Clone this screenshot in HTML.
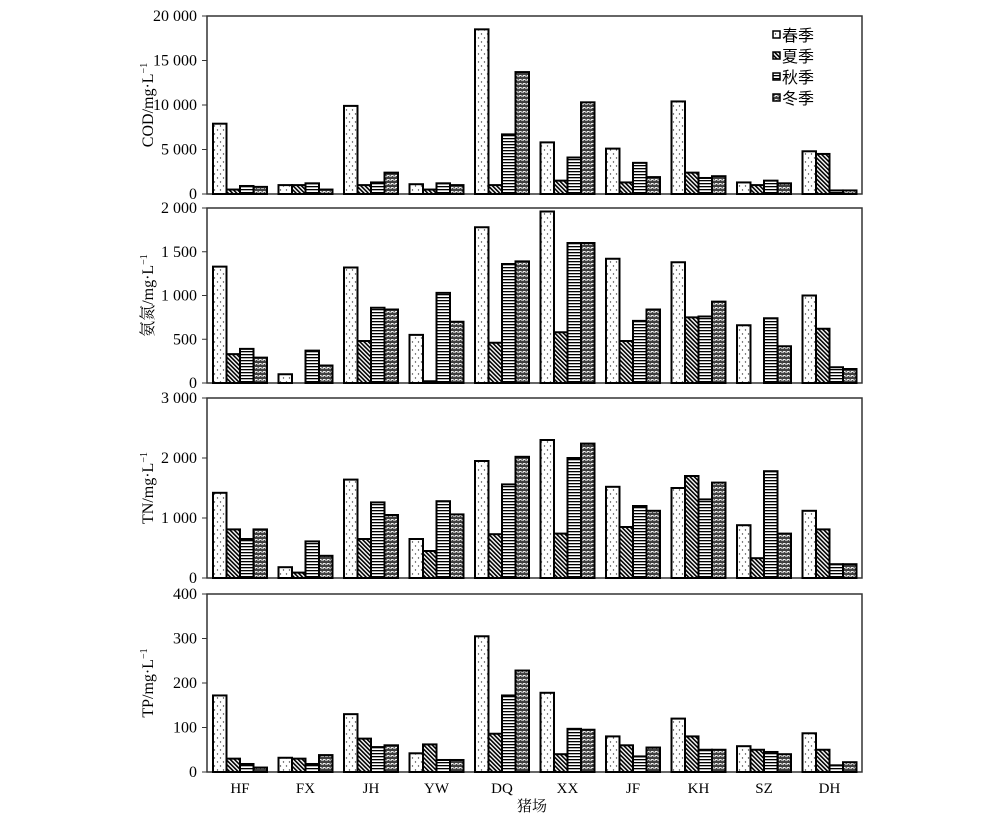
<!DOCTYPE html>
<html><head><meta charset="utf-8"><style>
html,body{margin:0;padding:0;background:#fff;}
svg text{font-family:"Liberation Serif","Noto Serif CJK SC",serif;fill:#000;}
</style></head><body>
<svg id="s" width="1000" height="823" xmlns="http://www.w3.org/2000/svg">
<defs>
<pattern id="p0" width="6" height="8" patternUnits="userSpaceOnUse"><rect width="6" height="8" fill="#fff"/><circle cx="1.5" cy="2" r="0.7" fill="#444"/><circle cx="4.5" cy="6" r="0.7" fill="#444"/></pattern>
<pattern id="p1" width="3" height="3" patternUnits="userSpaceOnUse" patternTransform="rotate(-45)"><rect width="3" height="3" fill="#fff"/><rect width="1.6" height="3" fill="#000"/></pattern>
<pattern id="p2" width="4" height="3" patternUnits="userSpaceOnUse"><rect width="4" height="3" fill="#fff"/><rect width="4" height="1.3" fill="#000"/></pattern>
<pattern id="p3" width="4" height="4" patternUnits="userSpaceOnUse"><rect width="4" height="4" fill="#fff"/><path d="M0,3 L1,1 L2,3 L3,1 L4,3" stroke="#222" stroke-width="1.1" fill="none"/><rect x="0" y="0" width="1.2" height="1.2" fill="#444"/><rect x="2" y="3" width="1" height="1" fill="#666"/></pattern>
</defs>
</svg>
<script>
var s=document.getElementById('s'),NS='http://www.w3.org/2000/svg';
function el(t,a,txt){var e=document.createElementNS(NS,t);for(var k in a)e.setAttribute(k,a[k]);if(txt!=null)e.textContent=txt;s.appendChild(e);return e;}
var X0=207,X1=862,P=65.5,BW=13.5;
var panels=[
{top:16,bot:194,max:20000,ticks:[0,5000,10000,15000,20000],lab:['0','5 000','10 000','15 000','20 000'],title:'COD/mg·L',
d:[[7900,500,900,800],[1000,1000,1200,500],[9900,1000,1300,2400],[1100,500,1200,1000],[18500,1000,6700,13700],[5800,1500,4100,10300],[5100,1300,3500,1900],[10400,2400,1800,2000],[1300,1000,1500,1200],[4800,4500,400,400]]},
{top:208,bot:383,max:2000,ticks:[0,500,1000,1500,2000],lab:['0','500','1 000','1 500','2 000'],title:'氨氮/mg·L',
d:[[1330,330,390,290],[100,0,370,200],[1320,480,860,840],[550,20,1030,700],[1780,460,1360,1390],[1960,580,1600,1600],[1420,480,710,840],[1380,750,760,930],[660,0,740,420],[1000,620,180,160]]},
{top:398,bot:578,max:3000,ticks:[0,1000,2000,3000],lab:['0','1 000','2 000','3 000'],title:'TN/mg·L',
d:[[1420,810,650,810],[180,90,610,370],[1640,650,1260,1050],[650,450,1280,1060],[1950,730,1560,2020],[2300,740,2000,2240],[1520,850,1200,1120],[1500,1700,1310,1590],[880,330,1780,740],[1120,810,230,230]]},
{top:594,bot:772,max:400,ticks:[0,100,200,300,400],lab:['0','100','200','300','400'],title:'TP/mg·L',
d:[[172,30,18,10],[32,30,18,38],[130,75,56,60],[42,62,27,27],[305,86,172,228],[178,40,97,95],[80,60,35,55],[120,80,50,50],[58,50,45,40],[87,50,15,22]]}
];
panels.forEach(function(p){
 var h=p.bot-p.top;
 el('rect',{x:X0,y:p.top,width:X1-X0,height:h,fill:'none',stroke:'#333','stroke-width':1.5});
 p.ticks.forEach(function(t,i){var y=p.bot-t/p.max*h;
  el('line',{x1:X0-5,x2:X0,y1:y,y2:y,stroke:'#333','stroke-width':1});
  el('text',{x:197,y:y+5,'text-anchor':'end','font-size':16},p.lab[i]);});
 p.d.forEach(function(g,gi){g.forEach(function(v,k){
  var bh=v/p.max*h; if(bh<0.5)return;
  el('rect',{x:X0+gi*P+6+k*BW,y:p.bot-bh,width:BW,height:bh,fill:'url(#p'+k+')',stroke:'#000','stroke-width':2});});});
 var cy=(p.top+p.bot)/2;
 var t=el('text',{x:0,y:0,'font-size':16,'text-anchor':'middle',transform:'translate(153,'+cy+') rotate(-90)'});
 t.textContent=p.title; var sp=document.createElementNS(NS,'tspan');sp.setAttribute('dy','-6');sp.setAttribute('font-size','10');sp.textContent='−1';t.appendChild(sp);
});
['HF','FX','JH','YW','DQ','XX','JF','KH','SZ','DH'].forEach(function(n,i){
 el('text',{x:X0+i*P+33,y:793,'text-anchor':'middle','font-size':15},n);});
el('text',{x:532,y:811,'text-anchor':'middle','font-size':15},'猪场');
['春季','夏季','秋季','冬季'].forEach(function(n,i){var y=35+i*21;
 el('rect',{x:773,y:y-4,width:7,height:7,fill:'url(#p'+i+')',stroke:'#000','stroke-width':1.5});
 el('text',{x:782,y:y+6,'font-size':16,style:'font-family:"Noto Sans CJK SC",sans-serif'},n);});
</script>
</body></html>
